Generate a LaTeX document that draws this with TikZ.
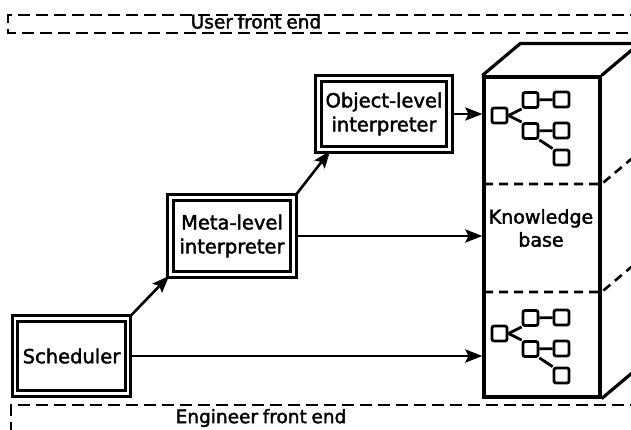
\documentclass[tikz,border=0pt]{standalone}
\usepackage{fontspec}
\setmainfont{DejaVu Sans}[FakeBold=2]
\newfontfamily\bandfont{DejaVu Sans}[WordSpace=0.8, FakeBold=2]
\usetikzlibrary{arrows.meta}

\tikzset{
  frame/.style={draw, line width=2.6pt, dash pattern=on 12pt off 6pt},
  dbox/.style={draw, line width=2.8pt, double, double distance=2.8pt,
    align=center, inner sep=0pt, font=\fontsize{19.5}{24}\selectfont},
  link/.style={line width=2.6pt, -{Stealth[length=17pt,width=13pt,inset=3pt]}},
  solid edge/.style={line width=3.2pt, line join=miter},
  cut/.style={line width=2.6pt, dash pattern=on 9pt off 6pt},
  leaf/.style={draw, line width=2.8pt, rounded corners=2pt, minimum size=15pt, inner sep=0pt},
  twig/.style={line width=2.8pt},
  kbtree/.pic={
    \node[leaf] (-r)  at (0,0)      {};
    \node[leaf] (-a)  at (31,-15.5) {};
    \node[leaf] (-b)  at (31,15.5)  {};
    \node[leaf] (-aa) at (62,-16)   {};
    \node[leaf] (-bb) at (62,15)    {};
    \node[leaf] (-bc) at (62,42)    {};
    \draw[twig] (-r.east) -- (-a.south west);
    \draw[twig] (-r.east) -- (-b.north west);
    \draw[twig] (-a) -- (-aa);
    \draw[twig] (-b) -- (-bb);
    \draw[twig] (-b.south east) -- (-bc.north west);
  }
}

\begin{document}
\begin{tikzpicture}[x=1pt,y=-1pt]
\useasboundingbox (0,0) rectangle (631,429);
\clip (0,0) rectangle (631,429);

% front-end bands
\draw[frame] (660,15) -- (8,15) -- (8,33) -- (660,33);
\node[font=\bandfont\fontsize{18.5}{22}\selectfont] (userlbl) at (256,21.5) {User front end};
\draw[frame] (660,405) -- (11,405) -- (11,450);
\node[font=\bandfont\fontsize{18.5}{22}\selectfont] (englbl) at (261,418) {Engineer front end};

% knowledge base block
\node[draw, solid edge, minimum width=116pt, minimum height=320pt, inner sep=0pt]
  (kb) at (542,237) {};
\draw[solid edge] (kb.north west) -- ++(38,-32) -- ++(120,0);
\draw[solid edge] (kb.north east) -- ++(38,-32) -- ++(0,320);
\draw[solid edge] (kb.south east) -- ++(38,-32);
\coordinate (cutA) at (484,184);
\coordinate (cutB) at (484,292);
\draw[cut] (cutA) -- (cutA -| kb.east) -- ++(38,-32);
\draw[cut] (cutB) -- (cutB -| kb.east) -- ++(38,-32);
\node[font=\fontsize{19}{23}\selectfont, align=center] (kblbl) at (541,228) {Knowledge\\base};
\pic (upper) at (499.5,115.5) {kbtree};
\pic (lower) at (499.5,333.5) {kbtree};

% processing boxes
\node[dbox, minimum width=113pt, minimum height=75pt] (sched) at (71.5,356) {Scheduler};
\node[dbox, minimum width=123pt, minimum height=77pt] (meta) at (232,236) {Meta-level\\interpreter};
\node[dbox, minimum width=131pt, minimum height=71pt] (obj) at (384,114) {Object-level\\interpreter};

% connectors
\draw[link] (sched.north east) -- (meta.south west);
\draw[link] (meta.north east) -- ([xshift=13pt]obj.south west);
\draw[link] (obj.east) -- (obj.east -| kb.west);
\draw[link] (meta.east) -- (meta.east -| kb.west);
\draw[link] (sched.east) -- (sched.east -| kb.west);
\end{tikzpicture}
\end{document}
